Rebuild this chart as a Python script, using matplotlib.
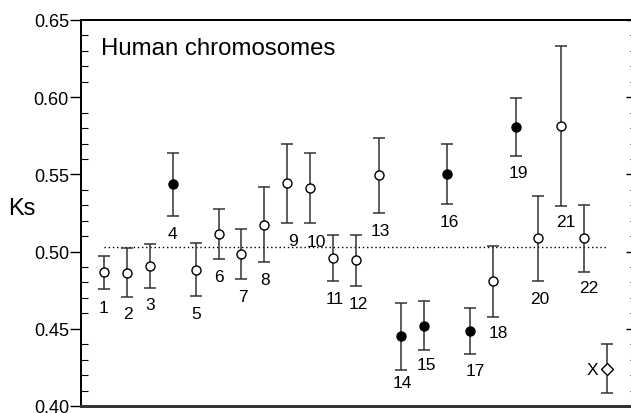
import matplotlib
matplotlib.use('Agg')
from matplotlib import pyplot as plt
from matplotlib.ticker import MultipleLocator

# chromosome index, Ks mean, upper and lower error bar ends
names = ['1', '2', '3', '4', '5', '6', '7', '8', '9', '10', '11',
         '12', '13', '14', '15', '16', '17', '18', '19', '20', '21', '22', 'X']
ks = [0.4866, 0.4861, 0.4904, 0.5435, 0.4882, 0.5113, 0.4986, 0.5172,
      0.5442, 0.5411, 0.4960, 0.4943, 0.5496, 0.4454, 0.4519, 0.5504,
      0.4487, 0.4811, 0.5807, 0.5087, 0.5813, 0.5087, 0.4238]
ks_hi = [0.4974, 0.5023, 0.5047, 0.5638, 0.5057, 0.5273, 0.5146, 0.5416,
         0.5696, 0.5636, 0.5107, 0.5107, 0.5733, 0.4668, 0.4677, 0.5696,
         0.4636, 0.5038, 0.5997, 0.5362, 0.6330, 0.5303, 0.4403]
ks_lo = [0.4758, 0.4703, 0.4761, 0.5228, 0.4710, 0.4951, 0.4822, 0.4930,
         0.5183, 0.5183, 0.4807, 0.4776, 0.5249, 0.4234, 0.4360, 0.5308,
         0.4336, 0.4577, 0.5617, 0.4809, 0.5293, 0.4869, 0.4083]
filled = ['4', '14', '15', '16', '17', '19']
mean_ks = 0.5027

# where each chromosome name sits (data coords)
lab_x = [0.96, 2.03, 3.00, 4.00, 5.04, 6.02, 7.06, 8.04, 9.27, 10.27, 11.07,
         12.12, 13.10, 14.06, 15.11, 16.10, 17.23, 18.25, 19.12, 20.07,
         21.21, 22.20, 22.38]
lab_y = [0.4639, 0.4596, 0.4654, 0.5114, 0.4596, 0.4840, 0.4710, 0.4816,
         0.5071, 0.5064, 0.4698, 0.4661, 0.5135, 0.4149, 0.4266, 0.5194,
         0.4229, 0.4473, 0.5514, 0.4698, 0.5194, 0.4769, 0.4235]

plt.rcParams['font.family'] = ['Liberation Sans', 'DejaVu Sans']

fig = plt.figure(figsize=(6.31, 4.14), dpi=100)
ax = fig.add_axes([0.129, 0.017, 0.8765, 0.9323])

xpos = list(range(1, len(names) + 1))
for i, n in enumerate(names):
    x = xpos[i]
    ax.errorbar([x], [ks[i]], yerr=[[ks[i] - ks_lo[i]], [ks_hi[i] - ks[i]]],
                fmt='none', ecolor='#333333', elinewidth=1.1, capsize=4,
                capthick=1.1, zorder=2)
    if n == 'X':
        ax.plot(x, ks[i], marker='D', ms=6, mfc='white', mec='black',
                mew=1.0, ls='none', zorder=3)
    else:
        fc = 'black' if n in filled else 'white'
        ax.plot(x, ks[i], marker='o', ms=6.5, mfc=fc, mec='black',
                mew=1.0, ls='none', zorder=3)
    ax.text(lab_x[i], lab_y[i], n, fontsize=12.5, ha='center', va='center')

ax.plot([1, 23], [mean_ks, mean_ks], color='black', lw=1,
        ls=(0, (1, 2)), zorder=1)

ax.set_xlim(0, 24.2)
ax.set_ylim(0.40, 0.65)
ax.set_xticks([])
ax.yaxis.set_major_locator(MultipleLocator(0.05))
ax.yaxis.set_minor_locator(MultipleLocator(0.01))
ax.set_yticks([0.40, 0.45, 0.50, 0.55, 0.60, 0.65])
ax.set_yticklabels(['0.40', '0.45', '0.50', '0.55', '0.60', '0.65'])
ax.tick_params(axis='y', which='major', direction='out', length=8,
               width=1, labelsize=13, pad=1)
ax.tick_params(axis='y', which='minor', direction='in', length=5, width=0.8)

ax2 = ax.twinx()
ax2.set_ylim(0.40, 0.65)
ax2.yaxis.set_major_locator(MultipleLocator(0.05))
ax2.yaxis.set_minor_locator(MultipleLocator(0.01))
ax2.tick_params(axis='y', which='major', direction='in', length=6,
                width=1, labelright=False)
ax2.tick_params(axis='y', which='minor', direction='in', length=3, width=0.8)

for a in (ax, ax2):
    a.spines['top'].set_linewidth(1.3)
    a.spines['bottom'].set_linewidth(2)
    a.spines['bottom'].set_color('#333333')
    a.spines['left'].set_linewidth(1.3)

fig.text(21.5 / 631, 1 - 209 / 414, 'Ks', fontsize=17, ha='center', va='center')
fig.text(101 / 631, 1 - 55 / 414, 'Human chromosomes', fontsize=17.3,
         ha='left', va='baseline')

plt.savefig('out.png', dpi=100)
